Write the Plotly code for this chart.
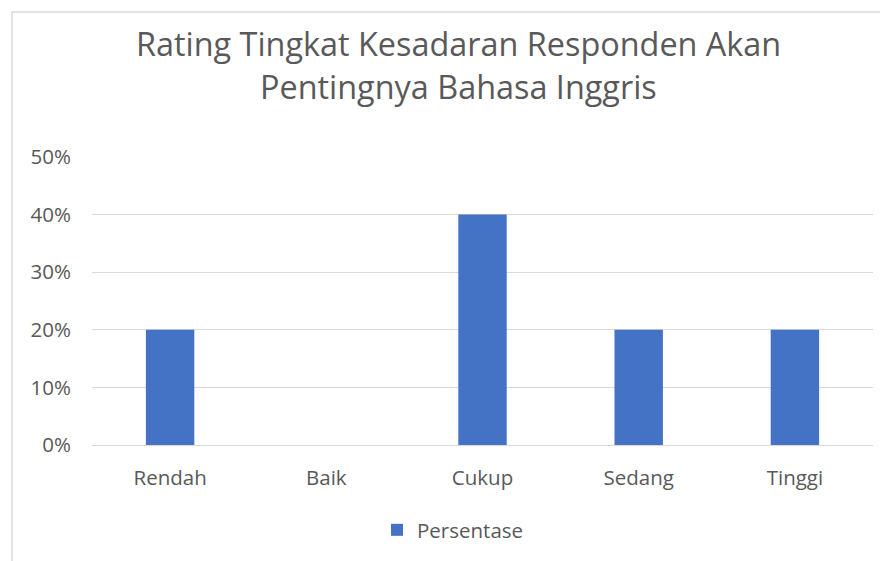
import plotly.graph_objects as go

kategori = ["Rendah", "Baik", "Cukup", "Sedang", "Tinggi"]
persentase = [0.20, 0.0, 0.40, 0.20, 0.20]
nama_seri = "Persentase"
judul_baris = ["Rating Tingkat Kesadaran Responden Akan", "Pentingnya Bahasa Inggris"]

# page body adds an 8px margin, so the figure is drawn 8px smaller and offset
W, H = 880, 553
L, R, T, B = 84, 15, 149, 116
pw, ph = W - L - R, H - T - B

font_main = "Open Sans, Calibri, sans-serif"
grey_text = "#595959"
grid = "#d9d9d9"

fig = go.Figure()
fig.add_trace(go.Bar(x=kategori, y=persentase, name=nama_seri,
                     marker=dict(color="#4472C4", line=dict(width=0))))

fig.update_layout(
    width=W, height=H,
    margin=dict(l=L, r=R, t=T, b=B, autoexpand=False),
    paper_bgcolor="white", plot_bgcolor="white",
    bargap=0.69,
    showlegend=True,
    legend=dict(orientation="h", x=(445 - L) / pw, xanchor="center",
                yref="container", y=1 - 522 / H, yanchor="middle",
                itemwidth=30,
                font=dict(family=font_main, size=20.5, color=grey_text)),
    font=dict(family=font_main, size=20.5, color=grey_text),
)

# title, two lines
for baris, yc in zip(judul_baris, [35, 78]):
    fig.add_annotation(text=baris, xref="paper", yref="paper",
                       x=(450 - L) / pw, y=1 + (T - yc) / ph,
                       xanchor="center", yanchor="middle", showarrow=False,
                       font=dict(family=font_main, size=32.4, color=grey_text))

fig.update_yaxes(range=[0, 0.5], dtick=0.1, tickformat=".0%", showgrid=True,
                 gridcolor=grid, gridwidth=1.3, zeroline=False, showline=False,
                 ticks="", ticklabelstandoff=20, automargin=False,
                 tickfont=dict(family=font_main, size=20.5, color=grey_text))
fig.update_xaxes(showline=True, linecolor=grid, linewidth=1.3, ticks="",
                 ticklabelstandoff=14, automargin=False,
                 tickfont=dict(family=font_main, size=20.5, color=grey_text))

# chart area border (extends past the right and bottom edges)
fig.add_shape(type="rect", xref="paper", yref="paper",
              x0=(4 - L) / pw, x1=(W + 20 - L) / pw,
              y0=-(H + 20 - T - ph) / ph, y1=1 + (T - 4) / ph,
              line=dict(color=grid, width=1.5), fillcolor="rgba(0,0,0,0)", layer="below")

fig.write_html("out.html")
